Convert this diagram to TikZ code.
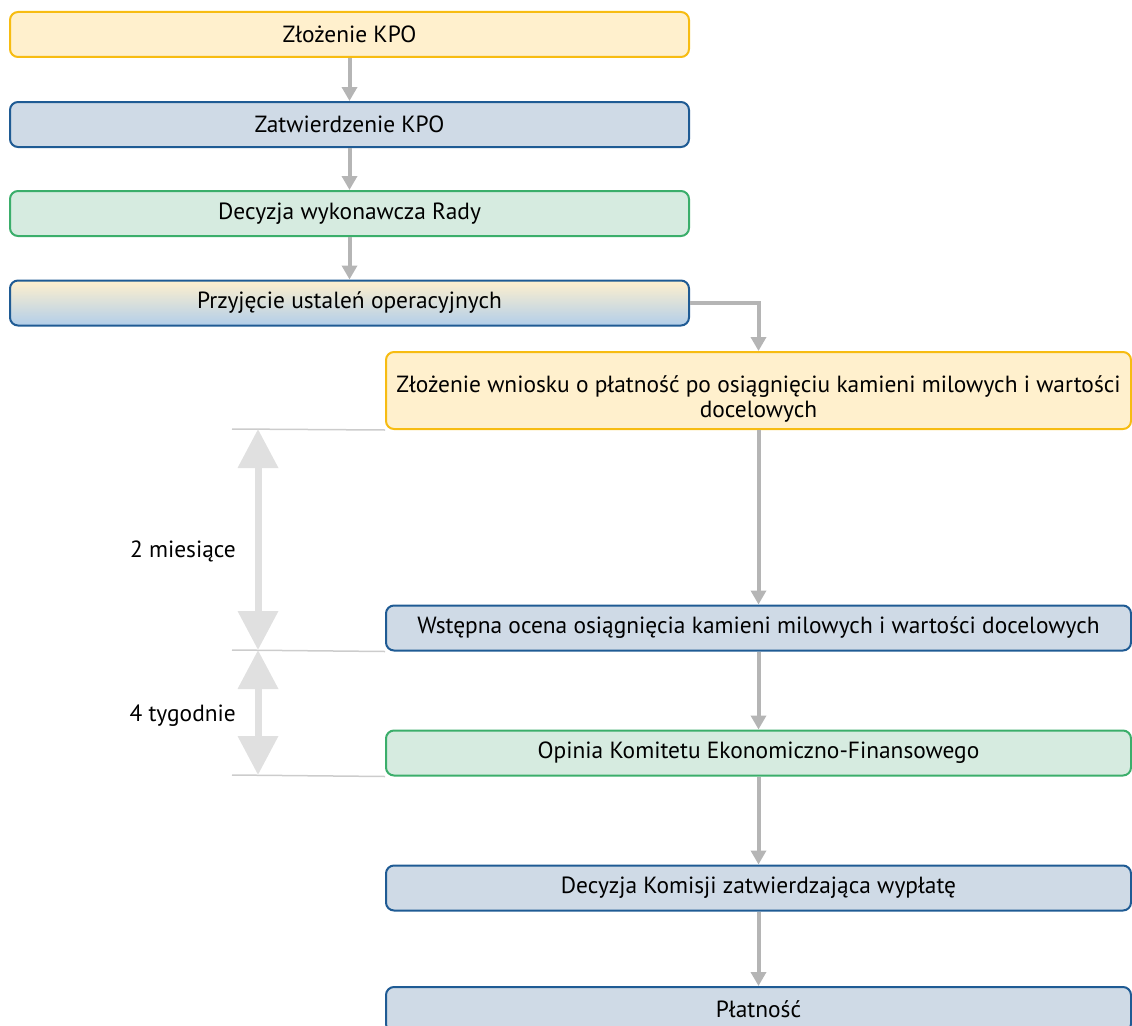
\documentclass[tikz,border=0pt]{standalone}
\usepackage{fontspec}
\setmainfont{PT Sans}
\usetikzlibrary{arrows.meta,positioning}
\definecolor{yelfill}{HTML}{FFF0CD}
\definecolor{yeldraw}{HTML}{F7BC12}
\definecolor{bluefill}{HTML}{CFDAE6}
\definecolor{bluedraw}{HTML}{1F5B94}
\definecolor{greenfill}{HTML}{D6EBE0}
\definecolor{greendraw}{HTML}{3BAE6B}
\definecolor{gradblue}{HTML}{B2CEEA}
\definecolor{flowgray}{HTML}{B5B5B5}
\definecolor{spangray}{HTML}{E0E0E0}
\definecolor{rulegray}{HTML}{CCCCCC}
\tikzset{
  box/.style={rectangle,rounded corners=8pt,line width=2pt,minimum height=45pt,
    inner sep=0pt,align=center,font=\fontsize{23.4}{25}\selectfont},
  yelbox/.style={box,draw=yeldraw,fill=yelfill},
  bluebox/.style={box,draw=bluedraw,fill=bluefill},
  greenbox/.style={box,draw=greendraw,fill=greenfill},
  gradbox/.style={box,draw=bluedraw,top color=yelfill,middle color=yelfill,bottom color=gradblue},
  flow/.style={-{Triangle[width=15pt,length=14pt]},line width=4pt,draw=flowgray},
  span/.style={{Triangle[width=39pt,length=39pt]}-{Triangle[width=39pt,length=39pt]},line width=7pt,draw=spangray},
  rule/.style={line width=1.5pt,draw=rulegray},
  lbl/.style={font=\fontsize{23.4}{25}\selectfont,anchor=east,inner sep=0pt}
}
\begin{document}
\begin{tikzpicture}[x=1pt,y=-1pt]
    \useasboundingbox (0,0) rectangle (1132,1025);
    % Upper column
    \node[yelbox,minimum width=679pt] (zlozenie) at (349.5,34.5) {Złożenie KPO};
    \node[bluebox,minimum width=679pt] (zatw) at (349.5,124.5) {Zatwierdzenie KPO};
    \node[greenbox,minimum width=679pt] (rada) at (349.5,213.5) {Decyzja wykonawcza Rady};
    \node[gradbox,minimum width=679pt] (ustalenia) at (349.5,303) {Przyjęcie ustaleń operacyjnych};
    \draw[flow] (zlozenie) -- (zatw);
    \draw[flow] (zatw) -- (rada);
    \draw[flow] (rada) -- (ustalenia);
    % Lower column
    \node[yelbox,minimum width=745pt,minimum height=77pt] (wniosek) at (758.5,390.5)
        {\rule{0pt}{33pt}Złożenie wniosku o płatność po osiągnięciu kamieni milowych i wartości\\docelowych};
    \node[bluebox,minimum width=745pt] (ocena) at (758.5,628) {Wstępna ocena osiągnięcia kamieni milowych i wartości docelowych};
    \node[greenbox,minimum width=745pt] (opinia) at (758.5,753) {Opinia Komitetu Ekonomiczno-Finansowego};
    \node[bluebox,minimum width=745pt] (komisja) at (758.5,888) {Decyzja Komisji zatwierdzająca wypłatę};
    \node[bluebox,minimum width=745pt] (platnosc) at (758.5,1009.5) {Płatność};
    \draw[flow] (ustalenia.east) -| (wniosek.north);
    \draw[flow] (wniosek) -- (ocena);
    \draw[flow] (ocena) -- (opinia);
    \draw[flow] (opinia) -- (komisja);
    \draw[flow] (komisja) -- (platnosc);
    % Time spans
    \coordinate (t1) at (232,429);
    \coordinate (t2) at (232,650);
    \coordinate (t3) at (232,775);
    \draw[rule] (t1) -- (wniosek.south west);
    \draw[rule] (t2) -- (ocena.south west);
    \draw[rule] (t3) -- (opinia.south west);
    \coordinate (s1) at (258,429);
    \coordinate (s2) at (258,650);
    \coordinate (s3) at (258,775);
    \draw[span] (s1) -- (s2);
    \draw[span] (s2) -- (s3);
    \node[lbl] (miesiace) at (236,551) {2 miesiące};
    \node[lbl] (tygodnie) at (236,716) {4 tygodnie};
\end{tikzpicture}
\end{document}
